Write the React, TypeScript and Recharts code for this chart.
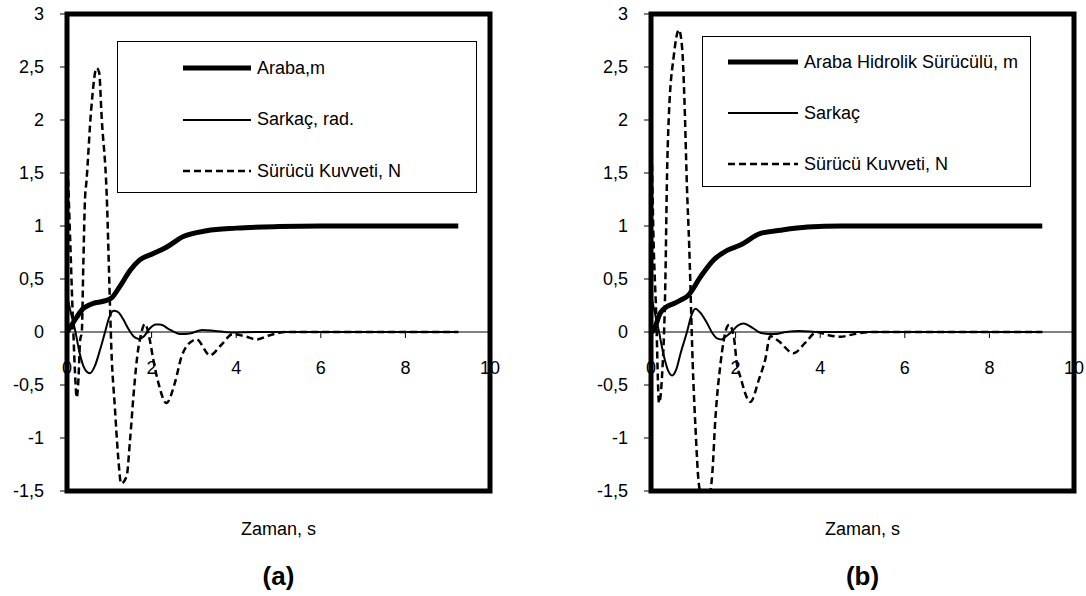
import { LineChart, Line, XAxis, YAxis, ReferenceLine, ReferenceArea, Legend } from 'recharts'

const FONT = '"Liberation Sans", Arial, sans-serif'

// (a) simulation
const aArabaT = [0, 0.1, 0.23, 0.38, 0.5, 0.62, 0.86, 1.05, 1.25, 1.49, 1.72, 2.04, 2.35, 2.75, 3.3, 4.0, 5.0, 6.0, 7.0, 8.0, 9.25]
const aArabaV = [0, 0.06, 0.14, 0.22, 0.25, 0.27, 0.29, 0.32, 0.43, 0.58, 0.68, 0.74, 0.8, 0.9, 0.955, 0.98, 0.995, 1.0, 1.0, 1.0, 1.0]

const aSarkacT = [0, 0.08, 0.19, 0.3, 0.42, 0.54, 0.66, 0.78, 0.9, 1.0, 1.1, 1.2, 1.33, 1.45, 1.57, 1.7, 1.82, 1.95, 2.1, 2.2, 2.44, 2.7, 2.9, 3.2, 3.5, 3.9, 4.5, 9.25]
const aSarkacV = [0.35, 0.2, 0.02, -0.2, -0.35, -0.39, -0.32, -0.17, 0, 0.14, 0.2, 0.19, 0.12, 0.03, -0.04, -0.065, -0.04, 0.03, 0.07, 0.07, 0.02, -0.02, -0.015, 0.02, 0.01, -0.005, 0, 0]

const aKuvvetT = [0, 0.07, 0.15, 0.19, 0.23, 0.27, 0.31, 0.35, 0.385, 0.425, 0.46, 0.57, 0.7, 0.76, 0.82, 0.94, 1.02, 1.05, 1.13, 1.21, 1.28, 1.41, 1.49, 1.58, 1.68, 1.72, 1.84, 1.96, 2.0, 2.04, 2.16, 2.35, 2.55, 2.71, 2.98, 3.06, 3.38, 3.65, 3.92, 4.2, 4.48, 4.8, 5.2, 9.25]
const aKuvvetV = [1.75, 0.93, 0, -0.39, -0.62, -0.45, -0.08, 0, 0.62, 1.25, 1.42, 2.09, 2.49, 2.45, 2.02, 1.28, 0.2, -0.17, -0.7, -1.18, -1.43, -1.36, -1.02, -0.56, -0.17, -0.08, 0.075, -0.08, -0.17, -0.26, -0.48, -0.67, -0.48, -0.23, -0.08, -0.07, -0.22, -0.12, -0.02, -0.04, -0.07, -0.03, 0, 0]

// (b) simulation, hydraulic drive
const bArabaT = [0, 0.05, 0.22, 0.38, 0.55, 0.7, 0.89, 1.17, 1.48, 1.8, 2.11, 2.59, 3.06, 3.7, 4.5, 6.0, 9.25]
const bArabaV = [0, 0.01, 0.18, 0.24, 0.27, 0.3, 0.35, 0.52, 0.68, 0.77, 0.82, 0.93, 0.96, 0.99, 1.0, 1.0, 1.0]

const bSarkacT = [0, 0.08, 0.19, 0.3, 0.4, 0.5, 0.6, 0.7, 0.85, 0.95, 1.05, 1.17, 1.33, 1.45, 1.56, 1.66, 1.78, 1.9, 2.05, 2.19, 2.4, 2.6, 2.9, 3.2, 3.5, 4.0, 9.25]
const bSarkacV = [0.35, 0.2, 0, -0.22, -0.36, -0.41, -0.35, -0.2, 0, 0.15, 0.22, 0.18, 0.08, -0.01, -0.06, -0.07, -0.04, 0, 0.06, 0.08, 0.04, -0.01, -0.02, 0, 0.01, 0, 0]

const bKuvvetT = [0, 0.06, 0.12, 0.19, 0.26, 0.34, 0.38, 0.42, 0.54, 0.66, 0.74, 0.78, 0.86, 0.89, 1.0, 1.05, 1.13, 1.25, 1.38, 1.45, 1.52, 1.64, 1.8, 1.85, 1.96, 2.03, 2.11, 2.35, 2.55, 2.7, 2.82, 3.0, 3.37, 3.65, 3.92, 4.2, 4.48, 4.8, 5.2, 9.25]
const bKuvvetV = [2.1, 0.87, 0.2, -0.67, -0.42, 0.49, 1.5, 2.02, 2.61, 2.85, 2.66, 2.31, 1.25, 0.96, -0.45, -0.89, -1.43, -1.62, -1.55, -1.33, -0.83, -0.31, 0.05, 0.07, -0.05, -0.3, -0.42, -0.66, -0.45, -0.26, -0.04, -0.08, -0.2, -0.1, 0, -0.03, -0.045, -0.02, 0, 0]

const X_TICKS = [0, 2, 4, 6, 8, 10]
const Y_TICKS = [-1.5, -1, -0.5, 0, 0.5, 1, 1.5, 2, 2.5, 3]
const Y_MIN = -1.5
const Y_MAX = 3

const H = 596
const TOP = 14
const BOTTOM = 491
const X_AXIS_H = 30
const Y0 = TOP + ((BOTTOM - TOP) * Y_MAX) / (Y_MAX - Y_MIN)

const zip = (t: number[], v: number[], key: string) => t.map((x, i) => ({ t: x, [key]: v[i] }))

const STYLE: Record<string, { strokeWidth: number; strokeDasharray?: string }> = {
  araba: { strokeWidth: 5 },
  sarkac: { strokeWidth: 2 },
  kuvvet: { strokeWidth: 2.5, strokeDasharray: '7 4' },
}

// x axis crosses at y = 0, so ticks are drawn there instead of at the bottom
const renderXTick = (props: any) => {
  const { x, payload } = props
  return (
    <g>
      <line x1={x} x2={x} y1={Y0} y2={Y0 + 6} stroke="#000" />
      <text x={x} y={Y0 + 36} textAnchor="middle" dominantBaseline="central" fill="#000" fontSize={18} fontFamily={FONT}>
        {payload.value}
      </text>
    </g>
  )
}

type LegendCfg = { left: number; top: number; width: number; height: number; lineX: number; lineW: number; rowTop: number; rowGap: number }

const legendContent = (cfg: LegendCfg) => (props: any) => {
  const items = props.payload || []
  return (
    <div style={{ position: 'relative', width: cfg.width, height: cfg.height }}>
      {items.map((e: any, i: number) => {
        const st = STYLE[e.dataKey] || { strokeWidth: 2 }
        const cy = cfg.rowTop + i * cfg.rowGap
        return (
          <div key={i} style={{ position: 'absolute', left: cfg.lineX, top: cy - 10, height: 20, display: 'flex', alignItems: 'center', whiteSpace: 'nowrap' }}>
            <svg width={cfg.lineW} height={20}>
              <line x1={0} x2={cfg.lineW} y1={10} y2={10} stroke="#000" strokeWidth={st.strokeWidth} strokeDasharray={st.strokeDasharray} />
            </svg>
            <span style={{ marginLeft: 6, fontSize: 18, fontFamily: FONT, color: '#000' }}>{e.value}</span>
          </div>
        )
      })}
    </div>
  )
}

type PanelProps = {
  left: number
  width: number
  right: number
  araba: number[][]
  sarkac: number[][]
  kuvvet: number[][]
  names: string[]
  legend: LegendCfg
  caption: string
}

function Panel({ left, width, right, araba, sarkac, kuvvet, names, legend, caption }: PanelProps) {
  const plotLeft = left + 67
  const plotRight = left + width - right
  const center = (plotLeft + plotRight) / 2
  return (
    <>
      <div style={{ position: 'absolute', left, top: 0 }}>
        <LineChart width={width} height={H} margin={{ top: TOP, right, bottom: H - BOTTOM - X_AXIS_H, left: 0 }}>
          <XAxis
            type="number"
            dataKey="t"
            domain={[0, 10]}
            ticks={X_TICKS}
            interval={0}
            allowDataOverflow
            height={X_AXIS_H}
            axisLine={false}
            tickLine={false}
            tick={renderXTick}
          />
          <YAxis
            type="number"
            domain={[Y_MIN, Y_MAX]}
            ticks={Y_TICKS}
            interval={0}
            allowDataOverflow
            width={67}
            axisLine={false}
            tickSize={7}
            tickMargin={16}
            tickLine={{ stroke: '#000' }}
            tick={{ fill: '#000', fontSize: 18, fontFamily: FONT }}
            tickFormatter={(v: number) => String(v).replace('.', ',')}
          />
          <ReferenceLine y={0} stroke="#000" strokeWidth={1} />
          <Legend
            layout="vertical"
            align="center"
            verticalAlign="middle"
            content={legendContent(legend)}
            wrapperStyle={{
              left: legend.left,
              top: legend.top,
              width: legend.width,
              height: legend.height,
              border: '1px solid #000',
              boxSizing: 'border-box',
              background: '#fff',
            }}
          />
          <Line data={zip(araba[0], araba[1], 'araba')} dataKey="araba" name={names[0]} type="monotone" stroke="#000" strokeWidth={STYLE.araba.strokeWidth} dot={false} activeDot={false} isAnimationActive={false} />
          <Line data={zip(sarkac[0], sarkac[1], 'sarkac')} dataKey="sarkac" name={names[1]} type="monotone" stroke="#000" strokeWidth={STYLE.sarkac.strokeWidth} dot={false} activeDot={false} isAnimationActive={false} />
          <Line data={zip(kuvvet[0], kuvvet[1], 'kuvvet')} dataKey="kuvvet" name={names[2]} type="monotone" stroke="#000" strokeWidth={STYLE.kuvvet.strokeWidth} strokeDasharray={STYLE.kuvvet.strokeDasharray} dot={false} activeDot={false} isAnimationActive={false} />
          <ReferenceArea x1={0} x2={10} y1={Y_MIN} y2={Y_MAX} fill="none" stroke="#000" strokeWidth={5} />
        </LineChart>
      </div>
      <div style={{ position: 'absolute', left: center - 100, width: 200, top: 519, textAlign: 'center', fontSize: 18, fontFamily: FONT, color: '#000' }}>
        Zaman, s
      </div>
      <div style={{ position: 'absolute', left: center - 100, width: 200, top: 561, textAlign: 'center', fontSize: 26, fontWeight: 'bold', fontFamily: FONT, color: '#000' }}>
        {caption}
      </div>
    </>
  )
}

export default function App() {
  return (
    <div style={{ position: 'absolute', left: 0, top: 0, width: 1086, height: H, background: '#fff' }}>
      <Panel
        left={0}
        width={540}
        right={50}
        araba={[aArabaT, aArabaV]}
        sarkac={[aSarkacT, aSarkacV]}
        kuvvet={[aKuvvetT, aKuvvetV]}
        names={['Araba,m', 'Sarkaç, rad.', 'Sürücü Kuvveti, N']}
        legend={{ left: 117, top: 41, width: 360, height: 152, lineX: 65, lineW: 68, rowTop: 26, rowGap: 51.5 }}
        caption="(a)"
      />
      <Panel
        left={584}
        width={502}
        right={12}
        araba={[bArabaT, bArabaV]}
        sarkac={[bSarkacT, bSarkacV]}
        kuvvet={[bKuvvetT, bKuvvetV]}
        names={['Araba Hidrolik Sürücülü,  m', 'Sarkaç', 'Sürücü Kuvveti, N']}
        legend={{ left: 118, top: 36, width: 329, height: 151, lineX: 25, lineW: 70, rowTop: 25, rowGap: 51 }}
        caption="(b)"
      />
    </div>
  )
}
